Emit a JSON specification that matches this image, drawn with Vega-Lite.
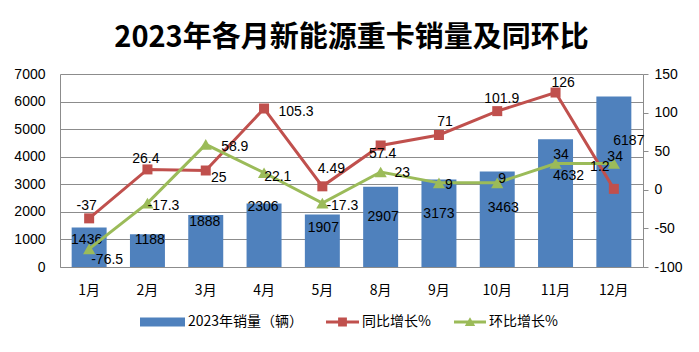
{
  "$schema": "https://vega.github.io/schema/vega-lite/v6.json",
  "width": 583,
  "height": 193,
  "autosize": {"type": "none"},
  "padding": {"left": 60, "top": 74, "right": 56, "bottom": 85},
  "background": "white",
  "config": {"view": {"stroke": null}, "font": "Liberation Sans"},
  "title": {"text": "2023年各月新能源重卡销量及同环比", "font": "Noto Sans CJK SC", "fontSize": 29, "fontWeight": "bold", "color": "#000", "anchor": "middle", "offset": 14},
  "data": {"values": [
    {"month": "1月", "sales": 1436, "yoy": -37, "mom": -76.5},
    {"month": "2月", "sales": 1188, "yoy": 26.4, "mom": -17.3},
    {"month": "3月", "sales": 1888, "yoy": 25, "mom": 58.9},
    {"month": "4月", "sales": 2306, "yoy": 105.3, "mom": 22.1},
    {"month": "5月", "sales": 1907, "yoy": 4.49, "mom": -17.3},
    {"month": "8月", "sales": 2907, "yoy": 57.4, "mom": 23},
    {"month": "9月", "sales": 3173, "yoy": 71, "mom": 9},
    {"month": "10月", "sales": 3463, "yoy": 101.9, "mom": 9},
    {"month": "11月", "sales": 4632, "yoy": 126, "mom": 34},
    {"month": "12月", "sales": 6187, "yoy": 1.2, "mom": 34}
  ]},
  "encoding": {
    "x": {"field": "month", "type": "nominal", "sort": null,
      "scale": {"paddingInner": 0.4, "paddingOuter": 0.2},
      "axis": {"title": null, "labelAngle": 0, "labelFont": "Noto Sans CJK SC", "labelFontSize": 14, "labelColor": "#000", "ticks": false, "domainColor": "#8c8c8c", "labelPadding": 16, "grid": false}}
  },
  "layer": [
    {
      "encoding": {
        "y": {"field": "sales", "type": "quantitative", "scale": {"domain": [0, 7000], "nice": false},
          "axis": {"title": null, "values": [0, 1000, 2000, 3000, 4000, 5000, 6000, 7000], "labelExpr": "datum.value + ''", "labelFontSize": 14, "labelColor": "#000", "labelFont": "Liberation Sans", "grid": true, "gridColor": "#8c8c8c", "ticks": false, "domainColor": "#8c8c8c", "labelPadding": 15}}
      },
      "layer": [
        {
          "mark": {"type": "bar", "color": "#4F81BD"},
          "encoding": {
            "color": {"datum": "2023年销量（辆）", "type": "nominal",
              "scale": {"domain": ["2023年销量（辆）", "同比增长%", "环比增长%"], "range": ["#4F81BD", "#C0504D", "#9BBB59"]},
              "legend": {"orient": "none", "legendX": 85, "legendY": 228, "direction": "horizontal", "title": null, "padding": 0,
                "labelFont": "Noto Sans CJK SC", "labelFontSize": 14, "labelColor": "#000", "symbolSize": 1600, "labelOffset": 3, "columnPadding": 15,
                "encode": {"symbols": {"update": {
                  "shape": {"signal": "datum.value === '同比增长%' ? 'M-0.65,-0.07H1V0.07H-0.65Z M-0.045,-0.22H0.395V0.22H-0.045Z' : datum.value === '环比增长%' ? 'M-0.6,-0.07H1V0.07H-0.6Z M0.2,-0.24L0.46,0.2H-0.06Z' : 'M-1.25,-0.22H1V0.22H-1.25Z'"},
                  "fill": {"scale": "color", "field": "value"},
                  "strokeWidth": {"value": 0},
                  "opacity": {"value": 1},
                  "fillOpacity": {"value": 1}
                }}}}
            }
          }
        },
        {
          "mark": {"type": "text", "fontSize": 14, "font": "Liberation Sans", "color": "#000", "baseline": "middle", "align": "center",
            "dx": {"expr": "[-2.5,2.4,-1,-1,1,2.5,0,6,13,15][indexof(['1月','2月','3月','4月','5月','8月','9月','10月','11月','12月'], datum.month)]"},
            "dy": {"expr": "[12.6,6,7,3.3,13.6,30,34,36.6,37,45][indexof(['1月','2月','3月','4月','5月','8月','9月','10月','11月','12月'], datum.month)]"}},
          "encoding": {"text": {"field": "sales", "type": "nominal"}}
        }
      ]
    },
    {
      "layer": [
        {
          "mark": {"type": "line", "strokeWidth": 3},
          "encoding": {
            "y": {"field": "yoy", "type": "quantitative", "scale": {"domain": [-100, 150], "nice": false},
              "axis": {"orient": "right", "title": null, "values": [-100, -50, 0, 50, 100, 150], "labelExpr": "datum.value + ''", "grid": false, "ticks": true, "tickSize": 5, "tickColor": "#8c8c8c", "domainColor": "#8c8c8c", "labelFontSize": 14, "labelColor": "#000", "labelFont": "Liberation Sans", "labelPadding": 6, "labelOverlap": false}},
            "color": {"datum": "同比增长%", "type": "nominal"}
          }
        },
        {
          "mark": {"type": "point", "shape": "square", "size": 100, "filled": true, "opacity": 1},
          "encoding": {
            "y": {"field": "yoy", "type": "quantitative", "scale": {"domain": [-100, 150], "nice": false},
              "axis": {"orient": "right", "title": null, "values": [-100, -50, 0, 50, 100, 150], "labelExpr": "datum.value + ''", "grid": false, "ticks": true, "tickSize": 5, "tickColor": "#8c8c8c", "domainColor": "#8c8c8c", "labelFontSize": 14, "labelColor": "#000", "labelFont": "Liberation Sans", "labelPadding": 6, "labelOverlap": false}},
            "color": {"datum": "同比增长%", "type": "nominal"}
          }
        },
        {
          "mark": {"type": "line", "strokeWidth": 3},
          "encoding": {
            "y": {"field": "mom", "type": "quantitative", "scale": {"domain": [-100, 150], "nice": false},
              "axis": {"orient": "right", "title": null, "values": [-100, -50, 0, 50, 100, 150], "labelExpr": "datum.value + ''", "grid": false, "ticks": true, "tickSize": 5, "tickColor": "#8c8c8c", "domainColor": "#8c8c8c", "labelFontSize": 14, "labelColor": "#000", "labelFont": "Liberation Sans", "labelPadding": 6, "labelOverlap": false}},
            "color": {"datum": "环比增长%", "type": "nominal"}
          }
        },
        {
          "mark": {"type": "point", "shape": "triangle-up", "size": 150, "filled": true, "opacity": 1},
          "encoding": {
            "y": {"field": "mom", "type": "quantitative", "scale": {"domain": [-100, 150], "nice": false},
              "axis": {"orient": "right", "title": null, "values": [-100, -50, 0, 50, 100, 150], "labelExpr": "datum.value + ''", "grid": false, "ticks": true, "tickSize": 5, "tickColor": "#8c8c8c", "domainColor": "#8c8c8c", "labelFontSize": 14, "labelColor": "#000", "labelFont": "Liberation Sans", "labelPadding": 6, "labelOverlap": false}},
            "color": {"datum": "环比增长%", "type": "nominal"}
          }
        },
        {
          "mark": {"type": "text", "fontSize": 14, "font": "Liberation Sans", "color": "#000", "baseline": "middle", "align": "center",
            "dx": {"expr": "[-2.5,-1.6,13,32,9,2,6,4.5,7.5,-14][indexof(['1月','2月','3月','4月','5月','8月','9月','10月','11月','12月'], datum.month)]"},
            "dy": {"expr": "[-12.7,-10.4,7.5,3,-17,9,-13,-12,-10,-22][indexof(['1月','2月','3月','4月','5月','8月','9月','10月','11月','12月'], datum.month)]"}},
          "encoding": {
            "y": {"field": "yoy", "type": "quantitative", "scale": {"domain": [-100, 150], "nice": false},
              "axis": {"orient": "right", "title": null, "values": [-100, -50, 0, 50, 100, 150], "labelExpr": "datum.value + ''", "grid": false, "ticks": true, "tickSize": 5, "tickColor": "#8c8c8c", "domainColor": "#8c8c8c", "labelFontSize": 14, "labelColor": "#000", "labelFont": "Liberation Sans", "labelPadding": 6, "labelOverlap": false}},
            "text": {"field": "yoy", "type": "nominal"}}
        },
        {
          "mark": {"type": "text", "fontSize": 14, "font": "Liberation Sans", "color": "#000", "baseline": "middle", "align": "center",
            "dx": {"expr": "[18,16,29,13.7,20,21.6,10,5,5.4,1.3][indexof(['1月','2月','3月','4月','5月','8月','9月','10月','11月','12月'], datum.month)]"},
            "dy": {"expr": "[11,2.5,3,4,2.5,1,2,-4,-8.5,-7][indexof(['1月','2月','3月','4月','5月','8月','9月','10月','11月','12月'], datum.month)]"}},
          "encoding": {
            "y": {"field": "mom", "type": "quantitative", "scale": {"domain": [-100, 150], "nice": false},
              "axis": {"orient": "right", "title": null, "values": [-100, -50, 0, 50, 100, 150], "labelExpr": "datum.value + ''", "grid": false, "ticks": true, "tickSize": 5, "tickColor": "#8c8c8c", "domainColor": "#8c8c8c", "labelFontSize": 14, "labelColor": "#000", "labelFont": "Liberation Sans", "labelPadding": 6, "labelOverlap": false}},
            "text": {"field": "mom", "type": "nominal"}}
        }
      ]
    }
  ],
  "resolve": {"scale": {"y": "independent"}}
}
